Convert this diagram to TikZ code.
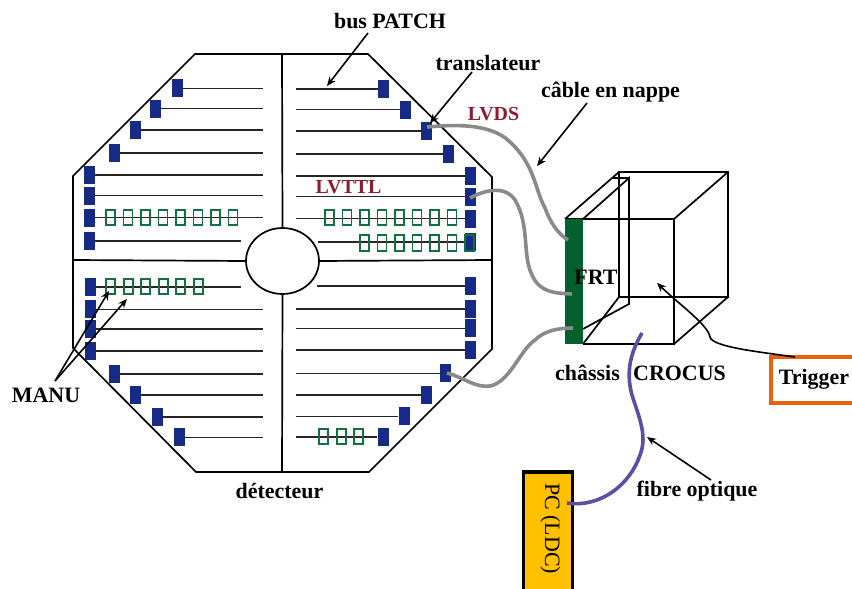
\documentclass[tikz,border=0pt]{standalone}
\usepackage{fontspec}
\setmainfont{Liberation Serif}
\usetikzlibrary{arrows.meta,shapes.geometric}
\definecolor{blk}{HTML}{172A85}
\definecolor{mgreen}{HTML}{12703C}
\definecolor{frtgreen}{HTML}{05602D}
\definecolor{cablegrey}{HTML}{8A8A8A}
\definecolor{fibre}{HTML}{5A4FA2}
\definecolor{lab}{HTML}{8E1C2E}
\definecolor{trig}{HTML}{E8610F}
\definecolor{pcfill}{HTML}{FFC000}
\tikzset{
  outline/.style={draw=black,line width=1.7bp,line join=miter},
  bus/.style={draw=black!85,line width=1.6bp},
  blockbox/.style={fill=blk,draw=none,minimum width=11bp,minimum height=18bp,inner sep=0pt},
  manubox/.style={draw=mgreen,line width=1.9bp,fill=none,minimum width=9bp,minimum height=15.5bp,inner sep=0pt},
  cable/.style={draw=cablegrey,line width=3.6bp,line cap=butt},
  fibreline/.style={draw=fibre,line width=3.6bp},
  lead/.style={draw=black,line width=1.6bp,-{Stealth[length=9bp,width=7.5bp]}},
  txt/.style={font=\bfseries\fontsize{22}{24}\selectfont,inner sep=0pt,anchor=base,text=black},
  redtxt/.style={font=\bfseries\fontsize{20}{22}\selectfont,inner sep=0pt,anchor=base,text=lab},
}
\begin{document}
\begin{tikzpicture}[x=1bp,y=-1bp]
\useasboundingbox (0,0) rectangle (852,589);
% detector
\node[draw=black,line width=1.7bp,ellipse,minimum width=73bp,minimum height=66bp,inner sep=0pt] (hole) at (282.5,261) {};
\coordinate (ot) at (282,54); \coordinate (ob) at (282,472);
\coordinate (ol) at (73,260); \coordinate (or) at (492,260);
\draw[outline] (195,54) -- (368,54) -- (492,177) -- (492,349) -- (369,472) -- (196,472) -- (73,348) -- (73,176) -- cycle;
\draw[outline] (ot) -- (hole.north);
\draw[outline] (hole.south) -- (ob);
\draw[outline] (ol) -- (hole.west);
\draw[outline] (hole.east) -- (or);
% bus lines and blocks, left half: name/x/y/end
\foreach \n/\x/\y/\e in {
  a/177.5/88.5/263, b/155.5/108.7/263, c/135.5/130.3/263, d/114.5/153.3/263,
  e/89.5/175.3/263, f/89.5/195.7/263, g/89.5/217.7/263, h/89.5/241/241,
  i/90/286.7/241, j/90/309.3/263, k/90/328.7/263, l/90/350.7/263,
  m/114.5/373.7/263, n/135.5/395/263, o/157.5/416.7/263, p/179/437.3/263}{
  \coordinate (e\n) at (\e,\y);
  \node[blockbox] (b\n) at (\x,\y) {};
  \draw[bus] (b\n) -- (e\n);
}
% right half
\foreach \n/\x/\y/\e in {
  q/383.5/89.3/296, r/405.5/109.7/296, s/426.5/131.3/296, t/448.5/154.3/296,
  u/470.5/176/296, v/470.5/196.7/296, w/470.5/218.7/296, x/470.5/242/318,
  y/470.5/286/317, z/470.5/309/296, A/470.5/328.3/296, B/470.5/350/296,
  C/445.5/373.3/296, D/426.5/394.7/296, E/404/416.3/296, F/383/437/296}{
  \coordinate (e\n) at (\e,\y);
  \node[blockbox] (b\n) at (\x,\y) {};
  \draw[bus] (b\n) -- (e\n);
}
% MANU boxes
\foreach \i in {0,...,7}{
  \node[manubox] (ma\i) at ({110.5+17.5*\i},217.5) {};
  \node[manubox] (mb\i) at ({329.5+17.5*\i},217.5) {};
}
\foreach \i in {0,...,6}{
  \node[manubox] (mc\i) at ({364.5+17.5*\i},243) {};
}
\foreach \i in {0,...,5}{
  \node[manubox] (md\i) at ({110.5+17.6*\i},286.5) {};
}
\foreach \i in {0,1,2}{
  \node[manubox] (me\i) at ({323.5+17.7*\i},436.5) {};
}
% crate
\coordinate (fa) at (583,219); \coordinate (fb) at (674,219);
\coordinate (fc) at (674,344); \coordinate (fd) at (583,344);
\coordinate (ra) at (619,172); \coordinate (rb) at (728,172);
\coordinate (rc) at (728,297); \coordinate (rd) at (619,297);
\coordinate (pa) at (612,178); \coordinate (pb) at (629,178);
\coordinate (pc) at (629,304); \coordinate (pd) at (583,329);
\draw[outline] (ra) rectangle (rc);
\draw[outline] (565,219) -- (fb) -- (fc) -- (fd);
\draw[outline] (565,219) -- (ra);
\draw[outline] (fb) -- (rb);
\draw[outline] (fc) -- (rc);
\draw[outline] (fd) -- (rd);
\draw[outline] (fa) -- (pb) -- (pc) -- (pd);
\draw[outline] (pa) -- (pb);
\node[fill=frtgreen,minimum width=18bp,minimum height=125bp,inner sep=0pt] (frtbar) at (574,281.5) {};
\node[txt] (frt) at (596,284) {FRT};
% PC box
\node[draw=black,fill=pcfill,line width=3.5bp,minimum width=49bp,minimum height=130bp,inner sep=0pt] (pcbox) at (548,537) {};
\node[font=\fontsize{22}{24}\selectfont,inner sep=0pt,rotate=-90,anchor=base west] (pclabel) at (545,483) {PC (LDC)};
% Trigger box
\node[draw=trig,line width=3.2bp,fill=white,minimum width=86bp,minimum height=46bp,inner sep=0pt] (trigbox) at (814,380) {};
\node[txt] (triglabel) at (814,384) {Trigger};
% cables
\coordinate (c1e) at (568,240); \coordinate (c2e) at (572,294); \coordinate (c3e) at (573,328);
\coordinate (c1s) at (427,127); \coordinate (c2s) at (470,198); \coordinate (c3s) at (447,373);
\draw[cable] (c1s) .. controls (450,125) and (490,122) .. (510,142) .. controls (535,165) and (535,190) .. (545,208) .. controls (550,222) and (558,234) .. (c1e);
\draw[cable] (c2s) .. controls (485,190) and (505,185) .. (515,200) .. controls (530,225) and (522,255) .. (532,275) .. controls (540,293) and (555,293) .. (c2e);
\draw[cable] (c3s) .. controls (465,378) and (475,388) .. (490,386) .. controls (510,382) and (520,350) .. (535,340) .. controls (545,330) and (560,328) .. (c3e);
% fibre
\coordinate (f1) at (642,333); \coordinate (f2) at (567,503);
\draw[fibreline] (f1) .. controls (632,350) and (625,370) .. (632,395) .. controls (638,415) and (648,435) .. (640,455) .. controls (630,485) and (600,508) .. (f2);
% labels
\node[txt] (buspatch) at (390,29) {bus PATCH};
\node[txt] (transl) at (488,71) {translateur};
\node[txt] (cable) at (610.5,98) {câble en nappe};
\node[redtxt] (lvds) at (493.5,121) {LVDS};
\node[redtxt] (lvttl) at (348.5,194) {LVTTL};
\node[txt] (manu) at (46,402) {MANU};
\node[txt] (detect) at (279.5,498) {détecteur};
\node[txt] (chassis) at (587.5,380) {châssis};
\node[txt] (crocus) at (679.5,380) {CROCUS};
\node[txt] (fibrelab) at (697,496) {fibre optique};
% leaders
\coordinate (l1) at (368,33); \coordinate (l1e) at (327,86);
\coordinate (l2) at (472,72); \coordinate (l2e) at (430,123);
\coordinate (l3) at (587,103); \coordinate (l3e) at (537,166);
\coordinate (l4) at (55,381); \coordinate (l4a) at (109,291); \coordinate (l4b) at (127,299);
\coordinate (l5) at (711,480); \coordinate (l5e) at (647,437);
\coordinate (l6) at (795,357); \coordinate (l6e) at (657,283);
\draw[lead] (l1) -- (l1e);
\draw[lead] (l2) -- (l2e);
\draw[lead] (l3) -- (l3e);
\draw[lead] (l4) -- (l4a);
\draw[lead] (l4) -- (l4b);
\draw[lead] (l5) -- (l5e);
\draw[lead] (l6) .. controls (760,352) and (712,347) .. (710,337) .. controls (708,325) and (680,305) .. (l6e);
\end{tikzpicture}
\end{document}
